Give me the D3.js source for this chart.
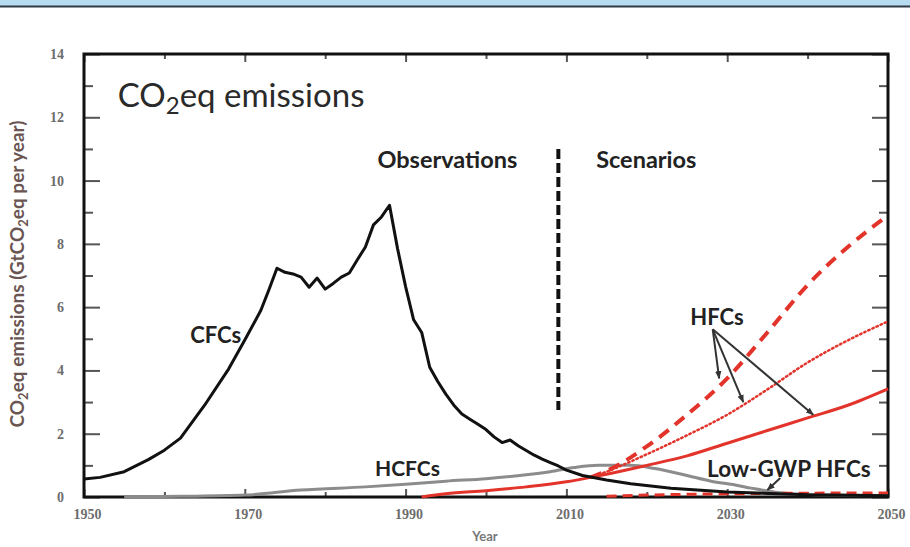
<!DOCTYPE html>
<html>
<head>
<meta charset="utf-8">
<script src="https://cdn.jsdelivr.net/npm/d3@7/dist/d3.min.js"></script>
<style>
  html, body { margin: 0; padding: 0; background: #fff; }
  svg { display: block; }
</style>
</head>
<body>
<svg id="chart" width="910" height="547"></svg>
<script>
// ---- Data (GtCO2eq per year) ----
const cfcYears = [1950,1952,1955,1958,1960,1962,1965,1968,1970,1972,1973,1974,1975,1976,1977,1978,1979,1980,1981,1982,1983,1984,1985,1986,1987,1988,1989,1990,1991,1992,1993,1994,1995,1996,1997,1998,1999,2000,2001,2002,2003,2004,2005,2006,2007,2008,2009,2010,2012,2015,2018,2023,2030,2040,2050];
const cfcValues = [0.57,0.62,0.8,1.18,1.48,1.86,2.9,4.05,4.96,5.9,6.55,7.23,7.1,7.05,6.95,6.63,6.92,6.57,6.75,6.95,7.08,7.5,7.9,8.6,8.85,9.22,7.85,6.65,5.6,5.2,4.1,3.65,3.25,2.9,2.62,2.46,2.3,2.13,1.9,1.72,1.8,1.62,1.47,1.32,1.2,1.09,0.98,0.85,0.68,0.54,0.42,0.28,0.16,0.07,0.04];

const hcfcYears = [1955,1962,1970,1977,1985,1990,1995,2000,2005,2008,2011,2014,2018,2021,2025,2028,2031,2033,2036,2040,2050];
const hcfcValues = [0.0,0.02,0.06,0.22,0.32,0.4,0.5,0.58,0.7,0.8,0.93,1.0,1.0,0.9,0.68,0.5,0.38,0.28,0.15,0.08,0.05];

// Observed HFCs shared by all scenarios
const hfcObsYears = [1992,1995,2000,2005,2010,2013];
const hfcObsValues = [0.0,0.1,0.2,0.32,0.48,0.62];

// Scenario projections (continue from the last observed point)
const scenYears = [2013,2015,2020,2025,2030,2035,2040,2045,2050];
const hfcUpper = [0.62,0.82,1.6,2.6,3.75,5.2,6.7,7.9,8.9];
const hfcMid   = [0.62,0.8,1.35,1.95,2.6,3.4,4.25,4.95,5.55];
const hfcLower = [0.62,0.72,1.0,1.3,1.7,2.1,2.5,2.9,3.42];

const lowGwpYears = [2015,2020,2030,2040,2050];
const lowGwpValues = [0.02,0.06,0.1,0.12,0.13];

const yTicks = [0,2,4,6,8,10,12,14];
const yMinor = [1,3,5,7,9,11,13];
const xTicks = [1950,1970,1990,2010,2030,2050];
const xMinor = [1960,1980,2000,2020,2040];

// ---- Layout ----
const svg = d3.select("#chart");
const W = 910, H = 547;
const x = d3.scaleLinear().domain([1950, 2050]).range([84, 888]);
const y = d3.scaleLinear().domain([0, 14]).range([497, 54]);

// Header band
svg.append("rect").attr("x", 0).attr("y", 0).attr("width", W).attr("height", 6).attr("fill", "#b8dcef");
svg.append("line").attr("x1", 0).attr("x2", W).attr("y1", 6.5).attr("y2", 6.5)
  .attr("stroke", "#2e3b44").attr("stroke-width", 2);

const tickColor = "#555";
const labelFont = "'Liberation Serif', serif";

// Left axis: labels outside, ticks inward
const gL = svg.append("g").attr("transform", `translate(${x(1950)},0)`)
  .call(d3.axisLeft(y).tickValues(yTicks).tickSize(-16).tickPadding(20).tickFormat(d3.format("d")));
const gLm = svg.append("g").attr("transform", `translate(${x(1950)},0)`)
  .call(d3.axisLeft(y).tickValues(yMinor).tickSize(-9).tickFormat(""));
// Right axis ticks inward
const gR = svg.append("g").attr("transform", `translate(${x(2050)},0)`)
  .call(d3.axisRight(y).tickValues(yTicks).tickSize(-16).tickFormat(""));
const gRm = svg.append("g").attr("transform", `translate(${x(2050)},0)`)
  .call(d3.axisRight(y).tickValues(yMinor).tickSize(-9).tickFormat(""));
// Bottom axis
const gB = svg.append("g").attr("transform", `translate(0,${y(0)})`)
  .call(d3.axisBottom(x).tickValues(xTicks).tickSize(-8).tickPadding(12).tickFormat(d3.format("d")));
const gBm = svg.append("g").attr("transform", `translate(0,${y(0)})`)
  .call(d3.axisBottom(x).tickValues(xMinor).tickSize(-5).tickFormat(""));
// Top axis
const gT = svg.append("g").attr("transform", `translate(0,${y(14)})`)
  .call(d3.axisTop(x).tickValues(xTicks).tickSize(-8).tickFormat(""));
const gTm = svg.append("g").attr("transform", `translate(0,${y(14)})`)
  .call(d3.axisTop(x).tickValues(xMinor).tickSize(-5).tickFormat(""));

[gL, gLm, gR, gRm, gB, gBm, gT, gTm].forEach(g => {
  g.select(".domain").remove();
  g.selectAll(".tick line").attr("stroke", tickColor).attr("stroke-width", 2);
  g.selectAll(".tick text").attr("fill", "#6d6d6d").style("font-family", labelFont)
    .style("font-size", "14px").style("font-weight", "bold");
});
gB.selectAll(".tick text").attr("dx", 3);

// Frame
svg.append("rect").attr("x", x(1950)).attr("y", y(14))
  .attr("width", x(2050) - x(1950)).attr("height", y(0) - y(14))
  .attr("fill", "none").attr("stroke", "#111").attr("stroke-width", 3);

// Axis titles
const yLab = svg.append("text")
  .attr("transform", `translate(24,274) rotate(-90)`)
  .attr("text-anchor", "middle").attr("fill", "#6a5552")
  .style("font-family", "Lato, sans-serif").style("font-size", "19px").style("font-weight", "bold");
yLab.append("tspan").text("CO");
yLab.append("tspan").text("2").attr("dy", 4).style("font-size", "13px");
yLab.append("tspan").text("eq emissions (GtCO").attr("dy", -4);
yLab.append("tspan").text("2").attr("dy", 4).style("font-size", "13px");
yLab.append("tspan").text("eq per year)").attr("dy", -4);

svg.append("text").attr("x", (x(1950) + x(2050)) / 2 - 1).attr("y", 541)
  .attr("text-anchor", "middle").attr("fill", "#777")
  .style("font-family", "Lato, sans-serif").style("font-size", "13px").style("font-weight", "bold")
  .text("Year");

// ---- Series ----
const zip = (xs, vs) => xs.map((d, i) => [d, vs[i]]);
const lineLin = d3.line().x(d => x(d[0])).y(d => y(d[1]));
const lineSmooth = d3.line().x(d => x(d[0])).y(d => y(d[1])).curve(d3.curveMonotoneX);

const red = "#e3342b";

// HCFCs
svg.append("path").datum(zip(hcfcYears, hcfcValues)).attr("d", lineSmooth)
  .attr("fill", "none").attr("stroke", "#8c8c8c").attr("stroke-width", 3);

// Low-GWP HFCs
svg.append("path").datum(zip(lowGwpYears, lowGwpValues)).attr("d", lineSmooth)
  .attr("fill", "none").attr("stroke", red).attr("stroke-width", 3).attr("stroke-dasharray", "10,6");

// HFC observed
svg.append("path").datum(zip(hfcObsYears, hfcObsValues)).attr("d", lineSmooth)
  .attr("fill", "none").attr("stroke", red).attr("stroke-width", 3);

// HFC scenarios
svg.append("path").datum(zip(scenYears, hfcLower)).attr("d", lineSmooth)
  .attr("fill", "none").attr("stroke", red).attr("stroke-width", 3);
svg.append("path").datum(zip(scenYears, hfcMid)).attr("d", lineSmooth)
  .attr("fill", "none").attr("stroke", red).attr("stroke-width", 2.5)
  .attr("stroke-dasharray", "1.5,3").attr("stroke-linecap", "round");
svg.append("path").datum(zip(scenYears, hfcUpper)).attr("d", lineSmooth)
  .attr("fill", "none").attr("stroke", red).attr("stroke-width", 4).attr("stroke-dasharray", "12,8");

// CFCs
svg.append("path").datum(zip(cfcYears, cfcValues)).attr("d", lineLin)
  .attr("fill", "none").attr("stroke", "#111").attr("stroke-width", 3).attr("stroke-linejoin", "round");

// Observations / scenarios divider
svg.append("line").attr("x1", x(2009)).attr("x2", x(2009)).attr("y1", y(11.0)).attr("y2", y(2.75))
  .attr("stroke", "#111").attr("stroke-width", 4).attr("stroke-dasharray", "10,4");

// ---- Annotations ----
const annFont = "Lato, sans-serif";
function label(txt, yr, val, size, anchor) {
  return svg.append("text").attr("x", x(yr)).attr("y", y(val))
    .attr("text-anchor", anchor || "start").attr("fill", "#222")
    .style("font-family", annFont).style("font-size", size + "px").style("font-weight", "bold")
    .text(txt);
}
label("Observations", 1986.5, 10.4, 23.5);
label("Scenarios", 2013.7, 10.4, 23.5);
label("CFCs", 1963.2, 4.87, 22);
label("HCFCs", 1986.2, 0.66, 21);
label("HFCs", 2025.4, 5.43, 22);
label("Low-GWP HFCs", 2027.5, 0.63, 22.5);

// Title inside the plot
const title = svg.append("text").attr("x", x(1954.2)).attr("y", y(12.33)).attr("fill", "#2a2a2a")
  .style("font-family", annFont).style("font-size", "33px");
title.append("tspan").text("CO");
title.append("tspan").text("2").attr("dy", 7).style("font-size", "24px");
title.append("tspan").text("eq emissions").attr("dy", -7);

// Arrows
const defs = svg.append("defs");
defs.append("marker").attr("id", "arrowhead").attr("viewBox", "0 0 10 10")
  .attr("refX", 9).attr("refY", 5).attr("markerWidth", 4).attr("markerHeight", 4)
  .attr("orient", "auto").attr("markerUnits", "strokeWidth")
  .append("path").attr("d", "M0,1 L10,5 L0,9 Z").attr("fill", "#333");

const arrows = [
  { from: [2028.2, 5.3], to: [2029.0, 3.75] },
  { from: [2028.2, 5.3], to: [2032.0, 3.0] },
  { from: [2028.2, 5.3], to: [2040.7, 2.6] },
  { from: [2036.6, 0.6], to: [2035.0, 0.22] }
];
svg.selectAll("line.arrow").data(arrows).enter().append("line").attr("class", "arrow")
  .attr("x1", d => x(d.from[0])).attr("y1", d => y(d.from[1]))
  .attr("x2", d => x(d.to[0])).attr("y2", d => y(d.to[1]))
  .attr("stroke", "#333").attr("stroke-width", 2).attr("marker-end", "url(#arrowhead)");
</script>
</body>
</html>
